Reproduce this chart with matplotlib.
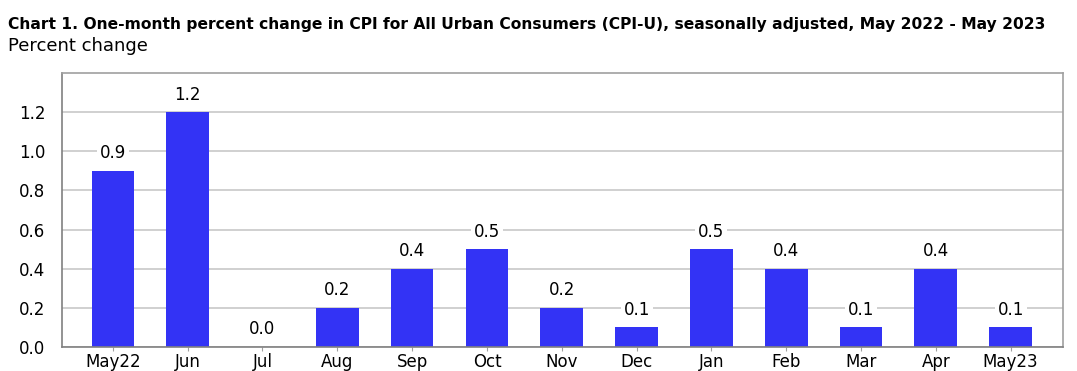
import matplotlib.pyplot as plt
import numpy as np

months = ["May22", "Jun", "Jul", "Aug", "Sep", "Oct", "Nov", "Dec",
          "Jan", "Feb", "Mar", "Apr", "May23"]
pct_change = [0.9, 1.2, 0.0, 0.2, 0.4, 0.5, 0.2, 0.1, 0.5, 0.4, 0.1, 0.4, 0.1]
yticks = [0.0, 0.2, 0.4, 0.6, 0.8, 1.0, 1.2]

plt.rcParams['font.family'] = ['DejaVu Sans']

fig = plt.figure(figsize=(10.77, 3.71), dpi=100)
ax = fig.add_axes([62/1077, 1 - 347/371, (1063-62)/1077, (347-73)/371])

x = np.arange(len(months))
ax.bar(x, pct_change, width=0.57, color="#3333f5", zorder=2)

for xi, v in zip(x, pct_change):
    ax.text(xi, v + 0.09, f"{v:.1f}", ha="center", va="center", fontsize=12,
            zorder=3, bbox=dict(facecolor="white", edgecolor="none", pad=2))

ax.set_xlim(-0.68, 12.7)
ax.set_ylim(0, 1.4)
ax.set_yticks(yticks)
ax.set_yticklabels([f"{t:.1f}" for t in yticks], fontsize=12)
ax.set_xticks(x)
ax.set_xticklabels(months, fontsize=12)
ax.yaxis.grid(True, color="#c8c8c8", linewidth=1.2, zorder=0)
ax.set_axisbelow(True)
ax.tick_params(axis="y", length=0, pad=12)
ax.tick_params(axis="x", length=3, color="#a0a0a0", pad=1)
for s in ax.spines.values():
    s.set_color("#a0a0a0")
    s.set_linewidth(1.2)
ax.spines["left"].set_color("#808080")
ax.spines["bottom"].set_color("#808080")

fig.text(8/1077, 1 - 25/371, "Chart 1. One-month percent change in CPI for All Urban Consumers (CPI-U), seasonally adjusted, May 2022 - May 2023",
         fontsize=11.15, fontweight="bold", va="center", ha="left")
fig.text(8/1077, 1 - 46/371, "Percent change", fontsize=13, va="center", ha="left")

fig.savefig("out.png", dpi=100)
